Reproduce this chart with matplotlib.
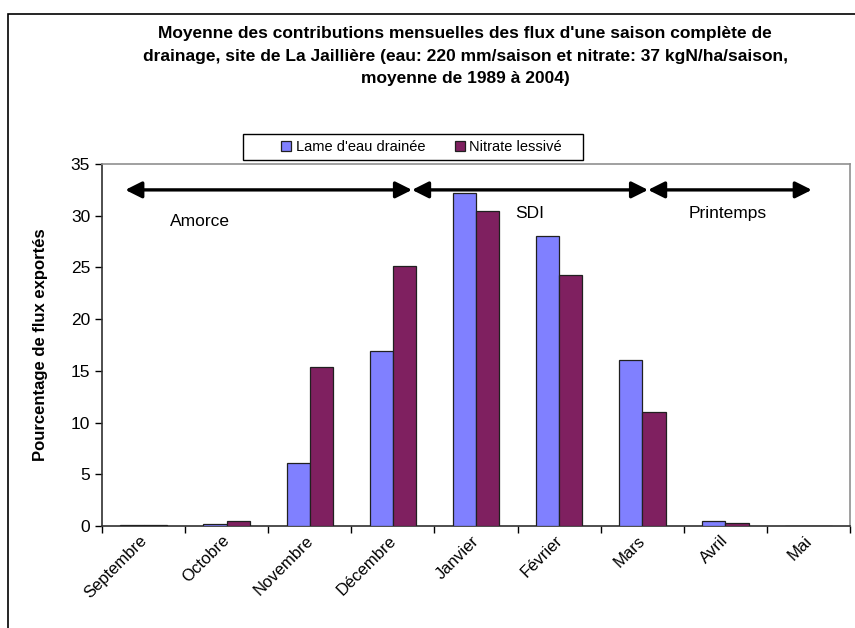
import matplotlib
matplotlib.use("Agg")
import matplotlib.pyplot as plt
import matplotlib.transforms as mtransforms
import numpy as np
from matplotlib.patches import Rectangle, FancyArrowPatch

plt.rcParams['font.family'] = ['Liberation Sans', 'DejaVu Sans']

mois = ['Septembre', 'Octobre', 'Novembre', 'Décembre', 'Janvier',
        'Février', 'Mars', 'Avril', 'Mai']
lame_eau = [0.1, 0.2, 6.1, 16.9, 32.2, 28.0, 16.1, 0.5, 0.0]
nitrate = [0.05, 0.5, 15.4, 25.1, 30.5, 24.3, 11.0, 0.25, 0.0]

# periods: (start, end, label, label_x, label_y)
periodes = [(-0.22, 3.23, 'Amorce', 0.68, 29.4),
            (3.23, 6.07, 'SDI', 4.65, 30.2),
            (6.07, 8.04, 'Printemps', 7.03, 30.2)]
y_fleche = 32.5

fig = plt.figure(figsize=(8.55, 6.28), dpi=100)
ax = fig.add_axes([0.1193, 0.1624, 0.8749, 0.5764])

# outer frame of the chart
fig.patches.append(Rectangle((8 / 855, -0.1), 1.2, 1 - 14 / 628 + 0.1,
                             transform=fig.transFigure, fill=False,
                             edgecolor='black', linewidth=1.2))

x = np.arange(len(mois))
w = 0.28
ax.bar(x - w / 2, lame_eau, w, color='#8080FF', edgecolor='#202020',
       linewidth=0.9, label="Lame d'eau drainée", zorder=3)
ax.bar(x + w / 2, nitrate, w, color='#7F2060', edgecolor='#202020',
       linewidth=0.9, label='Nitrate lessivé', zorder=3)

for debut, fin, nom, lx, ly in periodes:
    arr = FancyArrowPatch((debut, y_fleche), (fin, y_fleche),
                          arrowstyle='<|-|>,head_length=0.9,head_width=0.45',
                          mutation_scale=11, linewidth=2.4, color='black',
                          shrinkA=0, shrinkB=0, zorder=4)
    ax.add_patch(arr)
    ax.text(lx, ly, nom, ha='center', va='center', fontsize=12.5)

ax.set_xlim(-0.5, len(mois) - 0.5)
ax.set_ylim(0, 35)
ax.set_yticks(np.arange(0, 36, 5))
ax.set_xticks(x)
ax.set_xticklabels(mois, rotation=45, ha='right', fontsize=12)
ax.set_xticks(np.arange(-0.5, len(mois), 1), minor=True)
ax.tick_params(axis='x', which='major', length=0, pad=5)
ax.tick_params(axis='x', which='minor', length=5, width=1, direction='out')
ax.tick_params(axis='y', length=5, width=1, direction='out', labelsize=12.5)

# shift month labels a little to the right, like Excel does
decal = mtransforms.ScaledTranslation(6 / 100, 0, fig.dpi_scale_trans)
for lab in ax.get_xticklabels():
    lab.set_transform(lab.get_transform() + decal)

for s in ['top', 'right']:
    ax.spines[s].set_color('#909090')
    ax.spines[s].set_linewidth(1.2)
for s in ['left', 'bottom']:
    ax.spines[s].set_color('#303030')
    ax.spines[s].set_linewidth(1.2)

ax.set_ylabel('Pourcentage de flux exportés', fontsize=12, fontweight='bold',
              labelpad=16)

fig.text(0.544, 0.958,
         "Moyenne des contributions mensuelles des flux d'une saison complète de\n"
         "drainage, site de La Jaillière (eau: 220 mm/saison et nitrate: 37 kgN/ha/saison,\n"
         "moyenne de 1989 à 2004)",
         ha='center', va='top', fontsize=12.5, fontweight='bold', linespacing=1.6)

# legend frame drawn by hand, Excel style with wide padding
fig.patches.append(Rectangle((243 / 855, 1 - 160 / 628), 340 / 855, 26 / 628,
                             transform=fig.transFigure, facecolor='white',
                             edgecolor='black', linewidth=1.0))
leg = fig.legend(loc='center', bbox_to_anchor=(0.493, 0.766), ncol=2,
                 fontsize=10.5, frameon=False, handlelength=0.7,
                 handleheight=0.7, handletextpad=0.3, columnspacing=2.0,
                 borderpad=0.3, borderaxespad=0)

fig.savefig('out.png', dpi=100)
